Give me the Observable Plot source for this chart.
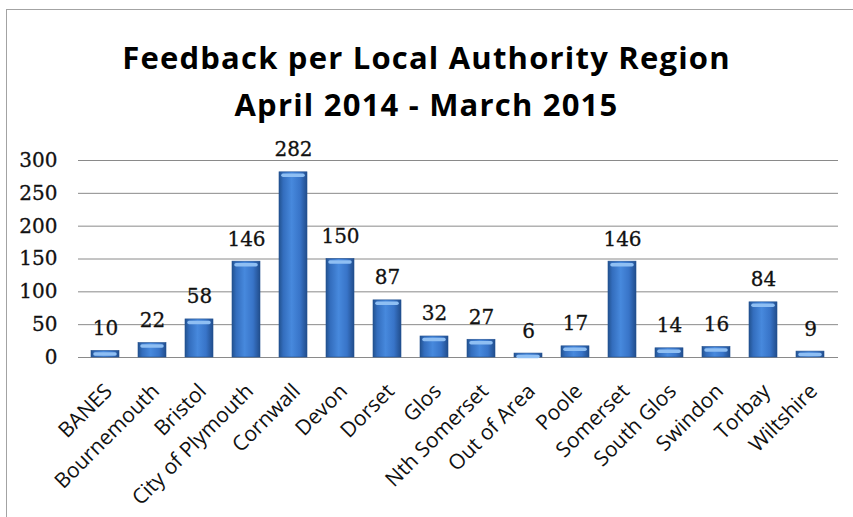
<!DOCTYPE html>
<html>
<head>
<meta charset="utf-8">
<script src="https://cdn.jsdelivr.net/npm/d3@7"></script>
<script src="https://cdn.jsdelivr.net/npm/@observablehq/plot@0.6"></script>
<style>
  html, body { margin: 0; padding: 0; background: #fff; overflow: hidden; width: 853px; height: 517px; }
  #frame { position: absolute; left: 6px; top: 9px; width: 1000px; height: 1000px; border: 1.5px solid #a3a3a3; }
  .title { position: absolute; left: 0; width: 853px; text-align: center; font-family: "Open Sans", Lato, sans-serif; font-weight: 700; font-size: 31px; letter-spacing: 1.2px; line-height: 47px; color: #000; white-space: nowrap; }
  #chart { position: absolute; left: 0; top: 130px; }
</style>
</head>
<body>
<div id="frame"></div>
<div class="title" style="top:34px">Feedback per Local Authority Region</div>
<div class="title" style="top:81px">April 2014 - March 2015</div>
<div id="chart"></div>
<script>
const regions = ["BANES","Bournemouth","Bristol","City of Plymouth","Cornwall","Devon","Dorset","Glos","Nth Somerset","Out of Area","Poole","Somerset","South Glos","Swindon","Torbay","Wiltshire"];
const values = [10,22,58,146,282,150,87,32,27,6,17,146,14,16,84,9];
const yTicks = [0,50,100,150,200,250,300];

const data = regions.map((r, i) => ({region: r, value: values[i]}));

const svg = Plot.plot({
  width: 853,
  height: 387,
  marginTop: 30,
  marginBottom: 160,
  marginLeft: 78,
  marginRight: 15,
  style: {fontFamily: "DejaVu Serif", fontSize: "20px", color: "#111", background: "transparent"},
  x: {domain: regions, paddingInner: 0.4, paddingOuter: 0.2, axis: null},
  y: {domain: [0, 300], axis: null},
  marks: [
    Plot.ruleY(yTicks, {stroke: "#8a8a8a", strokeWidth: 1}),
    Plot.text(yTicks, {frameAnchor: "left", y: d => d, text: d => String(d), textAnchor: "end", dx: -21, fontSize: 20, fontFamily: "DejaVu Serif", fill: "#111", stroke: "#111", strokeWidth: 0.3}),
    Plot.barY(data, {x: "region", y: "value", fill: "url(#barGrad)", stroke: "#22508f", strokeWidth: 0.6}),
    Plot.tickY(data, {x: "region", y: "value", stroke: "#8fbff3", strokeWidth: 3.5, dy: 3, insetLeft: 4, insetRight: 4, strokeLinecap: "round"}),
    Plot.text(data, {x: "region", y: "value", text: d => String(d.value), lineAnchor: "bottom", dy: -16, fontSize: 20, fontFamily: "DejaVu Serif", fill: "#111", stroke: "#111", strokeWidth: 0.3}),
    Plot.text(data, {x: "region", frameAnchor: "bottom", text: "region", rotate: -45, textAnchor: "end", lineAnchor: "bottom", dx: 8, dy: 35, fontSize: 21, fontFamily: "Open Sans", fill: "#111"})
  ]
});

d3.select(svg).insert("defs", ":first-child").html(`
  <linearGradient id="barGrad" x1="0" x2="1" y1="0" y2="0">
    <stop offset="0%" stop-color="#22528f"/>
    <stop offset="15%" stop-color="#336dbd"/>
    <stop offset="45%" stop-color="#4789dd"/>
    <stop offset="75%" stop-color="#3874c8"/>
    <stop offset="100%" stop-color="#214d8c"/>
  </linearGradient>`);

document.getElementById("chart").appendChild(svg);
</script>
</body>
</html>
